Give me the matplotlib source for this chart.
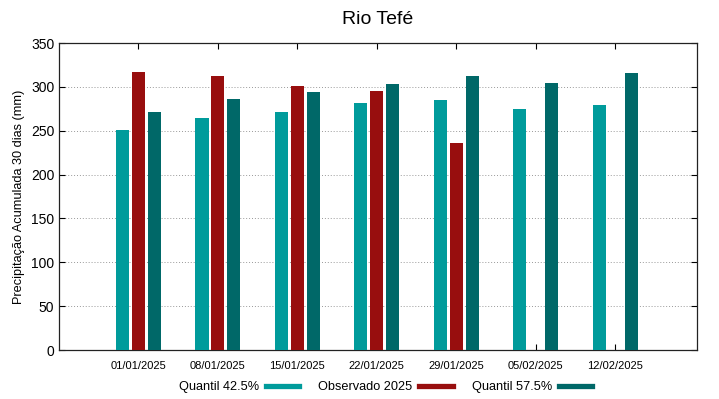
import numpy as np
import matplotlib
matplotlib.use('Agg')
import matplotlib.pyplot as plt
import matplotlib.transforms as mtransforms
from matplotlib.lines import Line2D

plt.rcParams['font.family'] = ['Liberation Sans', 'DejaVu Sans']

datas = ['01/01/2025', '08/01/2025', '15/01/2025', '22/01/2025',
         '29/01/2025', '05/02/2025', '12/02/2025']
q425 = [251, 264, 271, 282, 285, 275, 279]
obs = [317, 312, 301, 295, 236, np.nan, np.nan]
q575 = [271, 286, 294, 303, 312, 304, 316]

c_q425 = '#009b9b'
c_obs = '#980e0e'
c_q575 = '#006868'

fig = plt.figure(figsize=(7.19, 3.99), dpi=100)
ax = fig.add_axes([0.0821, 0.1228, 0.8873, 0.7694])

x = np.arange(len(datas))
w = 0.165
ax.bar(x - 0.2, q425, w, color=c_q425, zorder=3)
ax.bar(x, obs, w, color=c_obs, zorder=3)
ax.bar(x + 0.2, q575, w, color=c_q575, zorder=3)

ax.set_xlim(-1, 7.03)
ax.set_ylim(0, 350)
ax.set_yticks(np.arange(0, 351, 50))
ax.set_xticks(x)
ax.set_xticklabels(datas, fontsize=8)
off = mtransforms.ScaledTranslation(9 / 100, 0, fig.dpi_scale_trans)
for lab in ax.get_xticklabels():
    lab.set_transform(lab.get_transform() + off)
ax.tick_params(axis='both', direction='in', top=True, right=True, length=4, width=0.8)
ax.tick_params(axis='y', labelsize=10)
ax.tick_params(axis='x', pad=8)
for gy in range(50, 301, 50):
    ax.axhline(gy, color='#999999', lw=0.7, ls=(0, (1, 2)), zorder=1)
for s in ax.spines.values():
    s.set_linewidth(0.9)
    s.set_color('#222222')

ax.set_ylabel('Precipitação Acumulada 30 dias (mm)', fontsize=9.2)
ax.set_title('Rio Tefé', fontsize=14, pad=14)

handles = [Line2D([], [], color=c, lw=3.8) for c in (c_q425, c_obs, c_q575)]
fig.legend(handles, ['Quantil 42.5%', 'Observado 2025', 'Quantil 57.5%'],
           loc='center', bbox_to_anchor=(0.536, 0.03), ncol=3,
           frameon=False, markerfirst=False, fontsize=9.2,
           handlelength=2.6, columnspacing=1.5, handletextpad=0.55,
           borderpad=0, borderaxespad=0)

fig.savefig('out.png', dpi=100)
